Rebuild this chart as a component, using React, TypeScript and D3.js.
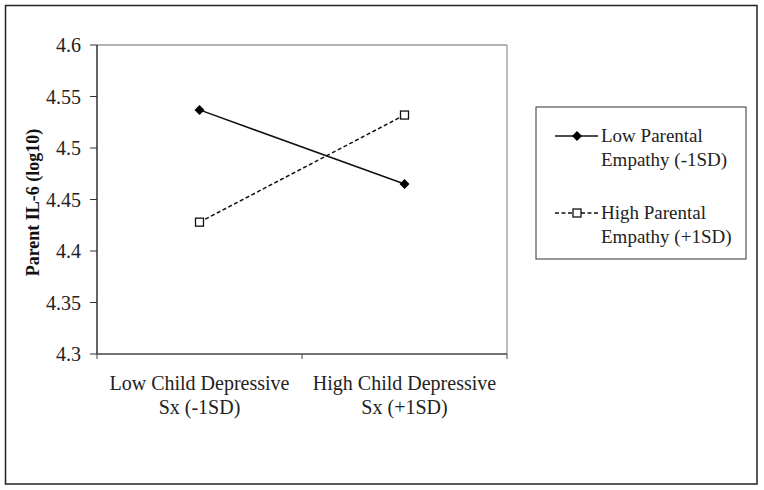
import React from "react";
import * as d3 from "d3";

const categories = ["Low Child Depressive|Sx (-1SD)", "High Child Depressive|Sx (+1SD)"];
const lowEmpathy = [4.537, 4.465];
const highEmpathy = [4.428, 4.532];
const yTicks = [4.3, 4.35, 4.4, 4.45, 4.5, 4.55, 4.6];
const yTickLabels = ["4.3", "4.35", "4.4", "4.45", "4.5", "4.55", "4.6"];
const legendLabels = ["Low Parental|Empathy (-1SD)", "High Parental|Empathy (+1SD)"];
const yTitle = "Parent IL-6 (log10)";

export default function App() {
  const W = 764, H = 490;
  const left = 97, right = 507, top = 45, bottom = 354;
  const font = "'Liberation Serif', 'Times New Roman', serif";
  const y = d3.scaleLinear().domain([4.3, 4.6]).range([bottom, top]);
  const xBand = d3.scaleBand().domain(categories).range([left, right]);
  const xc = (i: number) => (xBand(categories[i]) as number) + xBand.bandwidth() / 2;
  const line = d3.line<number>().x((_, i) => xc(i)).y((v) => y(v));
  const diamond = (cx: number, cy: number, r = 5) =>
    `M${cx},${cy - r}L${cx + r},${cy}L${cx},${cy + r}L${cx - r},${cy}Z`;
  const bandEdges = [left, ...categories.map((c) => (xBand(c) as number) + xBand.bandwidth())];

  return (
    <svg width={W} height={H} style={{ position: "absolute", left: 0, top: 0 }} fontFamily={font}>
      <rect x={0} y={0} width={W} height={H} fill="#fff" />
      <rect x={5.5} y={5.5} width={751.5} height={478.5} fill="none" stroke="#222" strokeWidth={1.5} />
      {/* plot frame */}
      <line x1={left} x2={right} y1={top} y2={top} stroke="#999" strokeWidth={1.3} />
      <line x1={right} x2={right} y1={top} y2={bottom} stroke="#999" strokeWidth={1.3} />
      <line x1={left} x2={left} y1={top} y2={bottom} stroke="#111" strokeWidth={1.3} />
      <line x1={left} x2={right} y1={bottom} y2={bottom} stroke="#444" strokeWidth={1.3} />
      {yTicks.map((t, i) => (
        <g key={i}>
          <line x1={left - 7} x2={left} y1={y(t)} y2={y(t)} stroke="#333" strokeWidth={1} />
          <text x={81} y={y(t)} dy="0.35em" textAnchor="end" fontSize={20} fill="#222">
            {yTickLabels[i]}
          </text>
        </g>
      ))}
      {bandEdges.map((bx, i) => (
        <line key={i} x1={bx} x2={bx} y1={bottom} y2={bottom + 5} stroke="#444" strokeWidth={1} />
      ))}
      {categories.map((c, i) => (
        <text key={c} x={xc(i)} y={390} textAnchor="middle" fontSize={20} fill="#222">
          {c.split("|").map((s, j) => (
            <tspan key={j} x={xc(i)} dy={j === 0 ? 0 : 24}>{s}</tspan>
          ))}
        </text>
      ))}
      <text
        transform={`translate(39,${(top + bottom) / 2 + 3}) rotate(-90)`}
        textAnchor="middle"
        fontSize={18}
        fontWeight="bold"
        fill="#111"
      >
        {yTitle}
      </text>
      {/* series */}
      <path d={line(lowEmpathy) as string} fill="none" stroke="#111" strokeWidth={1.5} />
      <path d={line(highEmpathy) as string} fill="none" stroke="#111" strokeWidth={1.5} strokeDasharray="4,2.5" />
      {lowEmpathy.map((v, i) => (
        <path key={i} d={diamond(xc(i), y(v))} fill="#000" />
      ))}
      {highEmpathy.map((v, i) => (
        <rect key={i} x={xc(i) - 4} y={y(v) - 4} width={8} height={8} fill="#fff" stroke="#111" strokeWidth={1.3} />
      ))}
      {/* legend */}
      <rect x={536} y={107} width={210} height={152} fill="#fff" stroke="#333" strokeWidth={1} />
      {legendLabels.map((lab, i) => {
        const ly = 136 + i * 77;
        return (
          <g key={i}>
            <line x1={555} x2={598} y1={ly} y2={ly} stroke="#111" strokeWidth={1.5} strokeDasharray={i === 0 ? undefined : "4,2.5"} />
            {i === 0 ? (
              <path d={diamond(577, ly)} fill="#000" />
            ) : (
              <rect x={573} y={ly - 4} width={8} height={8} fill="#fff" stroke="#111" strokeWidth={1.3} />
            )}
            <text x={601} y={ly} fontSize={19} fill="#222">
              {lab.split("|").map((s, j) => (
                <tspan key={j} x={601} dy={j === 0 ? "0.3em" : 24}>{s}</tspan>
              ))}
            </text>
          </g>
        );
      })}
    </svg>
  );
}
